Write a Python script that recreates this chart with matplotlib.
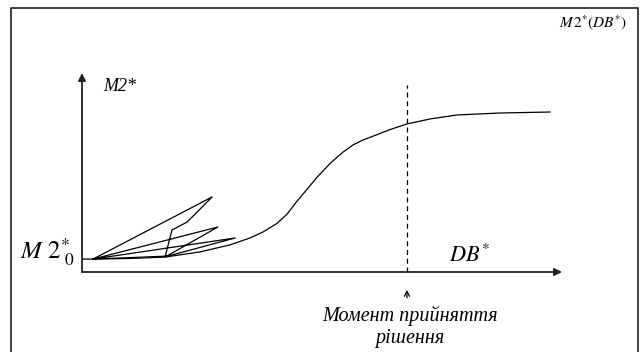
import matplotlib
matplotlib.use('Agg')
from matplotlib import pyplot as plt
from matplotlib.lines import Line2D

plt.rcParams['mathtext.fontset'] = 'stix'
plt.rcParams['font.family'] = ['Liberation Serif', 'DejaVu Serif']

# S-curve M2*(DB*) (DB* 0..100, M2* 0..100)
curve_x = [0, 2.3, 10, 17.3, 24.6, 30.8, 35.0, 37.7, 40.6, 42.7, 44.8, 46.9, 49.0, 51.7,
           54.4, 56.5, 58.5, 61.0, 64.2, 67.7, 72.5, 78.1, 87.1, 97.5]
curve_y = [6.5, 6.5, 6.8, 7.5, 10.1, 13.6, 17.1, 20.1, 24.4, 29.0, 35.6, 41.6, 47.7, 54.6,
           60.3, 63.9, 66.3, 68.6, 71.6, 74.4, 76.9, 78.9, 79.9, 80.4]

# zigzag of early attempts near the start
zig_x = [2.3, 27.1, 21.9, 18.75, 17.3, 28.3, 2.3, 31.9, 17.9, 2.3]
zig_y = [6.5, 37.7, 25.1, 21.1, 7.5, 22.6, 6.5, 17.1, 8.0, 6.5]

decision_x = 67.7
dash_top = 94

fig = plt.figure(figsize=(6.41, 3.52), dpi=100)
# frame open at the bottom
fx = [10.5 / 641, 10.5 / 641, 637.5 / 641, 637.5 / 641]
fy = [0, 1 - 7.5 / 352, 1 - 7.5 / 352, 0]
fig.lines.append(Line2D(fx, fy, transform=fig.transFigure, color='#333333', lw=1.3))

ax = fig.add_axes([82 / 641, 80 / 352, 480 / 641, 199 / 352])
ax.set_xlim(0, 100)
ax.set_ylim(0, 100)
ax.axis('off')

ax.plot(curve_x, curve_y, color='black', lw=0.9)
ax.plot(zig_x, zig_y, color='black', lw=0.9)
ax.plot([decision_x, decision_x], [0, dash_top], color='black', lw=0.9,
        linestyle=(0, (4, 3)))

arr = dict(arrowstyle='-|>', color='#222222', lw=1.3, mutation_scale=11,
           shrinkA=0, shrinkB=0)
ax.annotate('', xy=(100, 0), xytext=(0, 0), arrowprops=arr, annotation_clip=False)
ax.annotate('', xy=(0, 100), xytext=(0, 0), arrowprops=arr, annotation_clip=False)
ax.annotate('', xy=(decision_x, -9), xytext=(decision_x, -13),
            arrowprops=dict(arrowstyle='->', color='black', lw=0.9,
                            mutation_scale=9, shrinkA=0, shrinkB=0),
            annotation_clip=False)

fig.text(103 / 641, 1 - 91 / 352, 'M2*', fontsize=13, style='italic', va='baseline')
fig.text(449 / 641, 1 - 262 / 352, r'$DB^{*}$', fontsize=16, va='baseline')
fig.text(20 / 641, 1 - 259 / 352, r'$M\ 2^{*}_{\ 0}$', fontsize=18, va='baseline')
fig.text(627 / 641, 1 - 27 / 352, r'$M\,2^{*}(DB^{*})$', fontsize=11,
         ha='right', va='baseline')
fig.text(410 / 641, 1 - 316 / 352, 'Момент прийняття', fontsize=14.5,
         style='italic', ha='center', va='center')
fig.text(410 / 641, 1 - 338 / 352, 'рішення', fontsize=14.5,
         style='italic', ha='center', va='center')

fig.savefig('out.png', dpi=100)
